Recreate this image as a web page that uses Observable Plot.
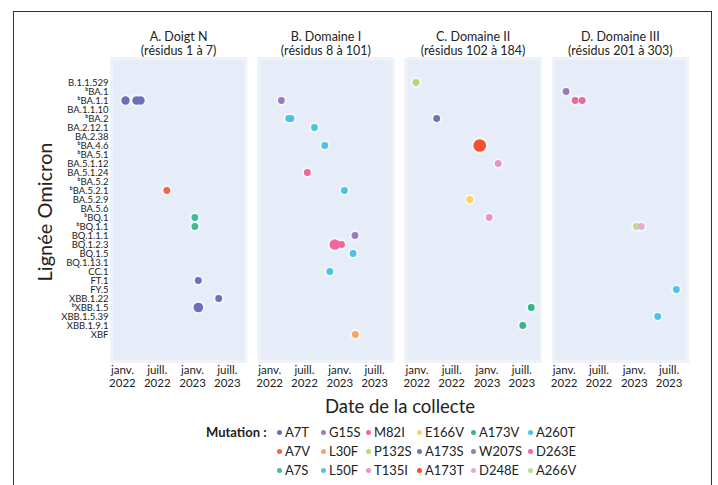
<!DOCTYPE html>
<html>
<head>
<meta charset="utf-8">
<script src="https://cdn.jsdelivr.net/npm/d3@7"></script>
<script src="https://cdn.jsdelivr.net/npm/@observablehq/plot@0.6"></script>
<style>
  body { margin: 0; background: #fff; font-family: Lato, "Open Sans", sans-serif; }
  #frame { position: absolute; left: 13px; top: 11px; width: 699px; height: 490px; border: 1.5px solid #333; border-bottom: none; box-sizing: border-box; }
  #chart { position: absolute; left: 0; top: 0; }
  #ylabel { position: absolute; left: 44px; top: 212px; transform: translate(-50%, -50%) rotate(-90deg); font-size: 20px; color: #222; white-space: nowrap; }
  #xlabel { position: absolute; left: 400px; top: 406px; transform: translate(-50%, -50%); font-size: 18.5px; color: #222; white-space: nowrap; }
  #legtitle { position: absolute; left: 206px; top: 423px; font-size: 13px; font-weight: bold; color: #222; line-height: 19px; }
  #legend { position: absolute; left: 277px; top: 423px; display: grid; grid-auto-flow: column; grid-template-rows: repeat(3, 19px); grid-template-columns: 44px 45px 51px 54px 57px 60px; font-size: 13px; color: #222; }
  .item { display: flex; align-items: center; white-space: nowrap; line-height: 19px; }
  .sw { width: 5px; height: 5px; border-radius: 50%; margin-right: 3px; flex: none; }
</style>
</head>
<body>
<div id="frame"></div>
<div id="chart"></div>
<div id="ylabel">Lignée Omicron</div>
<div id="xlabel">Date de la collecte</div>
<div id="legtitle">Mutation :</div>
<div id="legend"></div>
<script>
// ---- Data ----
const lineages = ["B.1.1.529", "ᵇBA.1", "ᵇBA.1.1", "BA.1.1.10", "ᵇBA.2", "BA.2.12.1", "BA.2.38", "ᵇBA.4.6", "ᵇBA.5.1", "BA.5.1.12", "BA.5.1.24", "ᵇBA.5.2", "ᵇBA.5.2.1", "BA.5.2.9", "BA.5.6", "ᵇBQ.1", "ᵇBQ.1.1", "BQ.1.1.1", "BQ.1.2.3", "BQ.1.5", "BQ.1.13.1", "CC.1", "FT.1", "FY.5", "XBB.1.22", "ᵇXBB.1.5", "XBB.1.5.39", "XBB.1.9.1", "XBF"];
const domainKeys = ["A", "B", "C", "D"];
const domainTitles = ["A. Doigt N\n(résidus 1 à 7)", "B. Domaine I\n(résidus 8 à 101)", "C. Domaine II\n(résidus 102 à 184)", "D. Domaine III\n(résidus 201 à 303)"];
const mutations = ["A7T", "A7V", "A7S", "G15S", "L30F", "L50F", "M82I", "P132S", "T135I", "E166V", "A173S", "A173T", "A173V", "W207S", "D248E", "A260T", "D263E", "A266V"];
const mutationColors = ["#6b6fb9", "#f0654a", "#3dbd93", "#9a7bbf", "#f7a65f", "#4cc2e4", "#f0679a", "#b9d77a", "#e497c6", "#f5d565", "#6f74b8", "#f4532f", "#35b48a", "#9a78c0", "#e9a8d6", "#4fc4e8", "#f0689a", "#bfdb8a"];
const xTickDates = ["2022-01-01", "2022-07-01", "2023-01-01", "2023-07-01"];
const xTickLabels = ["janv.\n2022", "juill.\n2022", "janv.\n2023", "juill.\n2023"];

const ptDomain   = ["A","A","A","A","A","A","A","A","A",
                    "B","B","B","B","B","B","B","B","B","B","B","B","B",
                    "C","C","C","C","C","C","C","C",
                    "D","D","D","D","D","D","D"];
const ptLineage  = ["ᵇBA.1.1","ᵇBA.1.1","ᵇBA.1.1","ᵇBA.5.2.1","ᵇBQ.1","ᵇBQ.1.1","FT.1","XBB.1.22","ᵇXBB.1.5",
                    "ᵇBA.1.1","ᵇBA.2","ᵇBA.2","BA.2.12.1","ᵇBA.4.6","BA.5.1.24","ᵇBA.5.2.1","BQ.1.1.1","BQ.1.2.3","BQ.1.2.3","BQ.1.5","CC.1","XBF",
                    "B.1.1.529","ᵇBA.2","ᵇBA.4.6","BA.5.1.12","BA.5.2.9","ᵇBQ.1","ᵇXBB.1.5","XBB.1.9.1",
                    "ᵇBA.1","ᵇBA.1.1","ᵇBA.1.1","ᵇBQ.1.1","ᵇBQ.1.1","FY.5","XBB.1.5.39"];
const ptMutation = ["A7T","A7T","A7T","A7V","A7S","A7S","A7T","A7T","A7T",
                    "G15S","L50F","L50F","L50F","L50F","M82I","L50F","G15S","M82I","M82I","L50F","L50F","L30F",
                    "P132S","A173S","A173T","T135I","E166V","T135I","A173V","A173V",
                    "W207S","D263E","D263E","A266V","D248E","A260T","A260T"];
const ptDate     = ["2022-01-17","2022-03-15","2022-04-05","2022-08-20","2023-01-13","2023-01-13","2023-01-31","2023-05-17","2023-01-31",
                    "2022-03-03","2022-04-10","2022-04-22","2022-08-22","2022-10-15","2022-07-16","2023-01-25","2023-03-21","2022-12-06","2023-01-10","2023-03-11","2022-11-10","2023-03-23",
                    "2021-12-27","2022-04-14","2022-11-24","2023-02-28","2022-10-03","2023-01-12","2023-08-19","2023-07-06",
                    "2022-01-11","2022-02-27","2022-04-05","2023-01-12","2023-02-07","2023-08-08","2023-05-03"];
const ptCount    = [1.5,1.5,1.5,1,1,1,1,1,2,
                    1,1,1,1,1,1,1,1,2.4,1,1,1,1,
                    1,1,3.5,1,1,1,1,1,
                    1,1,1,1,1,1,1];

const points = ptDomain.map((d, i) => ({
  domain: d, lineage: ptLineage[i], mutation: ptMutation[i],
  date: new Date(ptDate[i]), n: ptCount[i]
}));

// ---- Chart ----
const chart = Plot.plot({
  width: 718,
  height: 395,
  marginLeft: 111,
  marginRight: 31,
  marginTop: 58,
  marginBottom: 34,
  style: {fontFamily: "Lato, 'Open Sans', sans-serif", color: "#222", background: "transparent"},
  fx: {domain: domainKeys, paddingInner: 0.088, paddingOuter: 0, round: false, label: null, axis: null},
  x: {type: "utc", domain: [new Date("2021-11-05"), new Date("2023-10-05")], label: null},
  y: {type: "point", domain: lineages, range: [77, 339], label: null},
  color: {domain: mutations, range: mutationColors},
  r: {type: "sqrt", domain: [0, 3], range: [0, 5.9]},
  marks: [
    Plot.frame({fill: "#e6edf8", stroke: "#eef3fa", strokeWidth: 3}),
    Plot.axisFx({anchor: "top", tickSize: 0, tickPadding: 4, fontSize: 12.5, lineHeight: 1.06,
      tickFormat: d => domainTitles[domainKeys.indexOf(d)], label: null}),
    Plot.axisX({ticks: xTickDates.map(d => new Date(d)), tickSize: 0, tickPadding: 3, fontSize: 11.5, lineHeight: 1.15,
      tickFormat: (d) => xTickLabels[xTickDates.findIndex(t => +new Date(t) === +d)], label: null}),
    Plot.axisY({tickSize: 0, tickPadding: 3, fontSize: 9.5, label: null}),
    Plot.dot(points, {fx: "domain", x: "date", y: "lineage", r: "n", fill: "white", stroke: "white", strokeWidth: 4, strokeOpacity: 0.55, fillOpacity: 0.6}),
    Plot.dot(points, {fx: "domain", x: "date", y: "lineage", r: "n", fill: "mutation"})
  ]
});
document.getElementById("chart").appendChild(chart);

// ---- Legend ----
const leg = d3.select("#legend");
mutations.forEach((m, i) => {
  const it = leg.append("div").attr("class", "item");
  it.append("span").attr("class", "sw").style("background", mutationColors[i]);
  it.append("span").text(m);
});
</script>
</body>
</html>
